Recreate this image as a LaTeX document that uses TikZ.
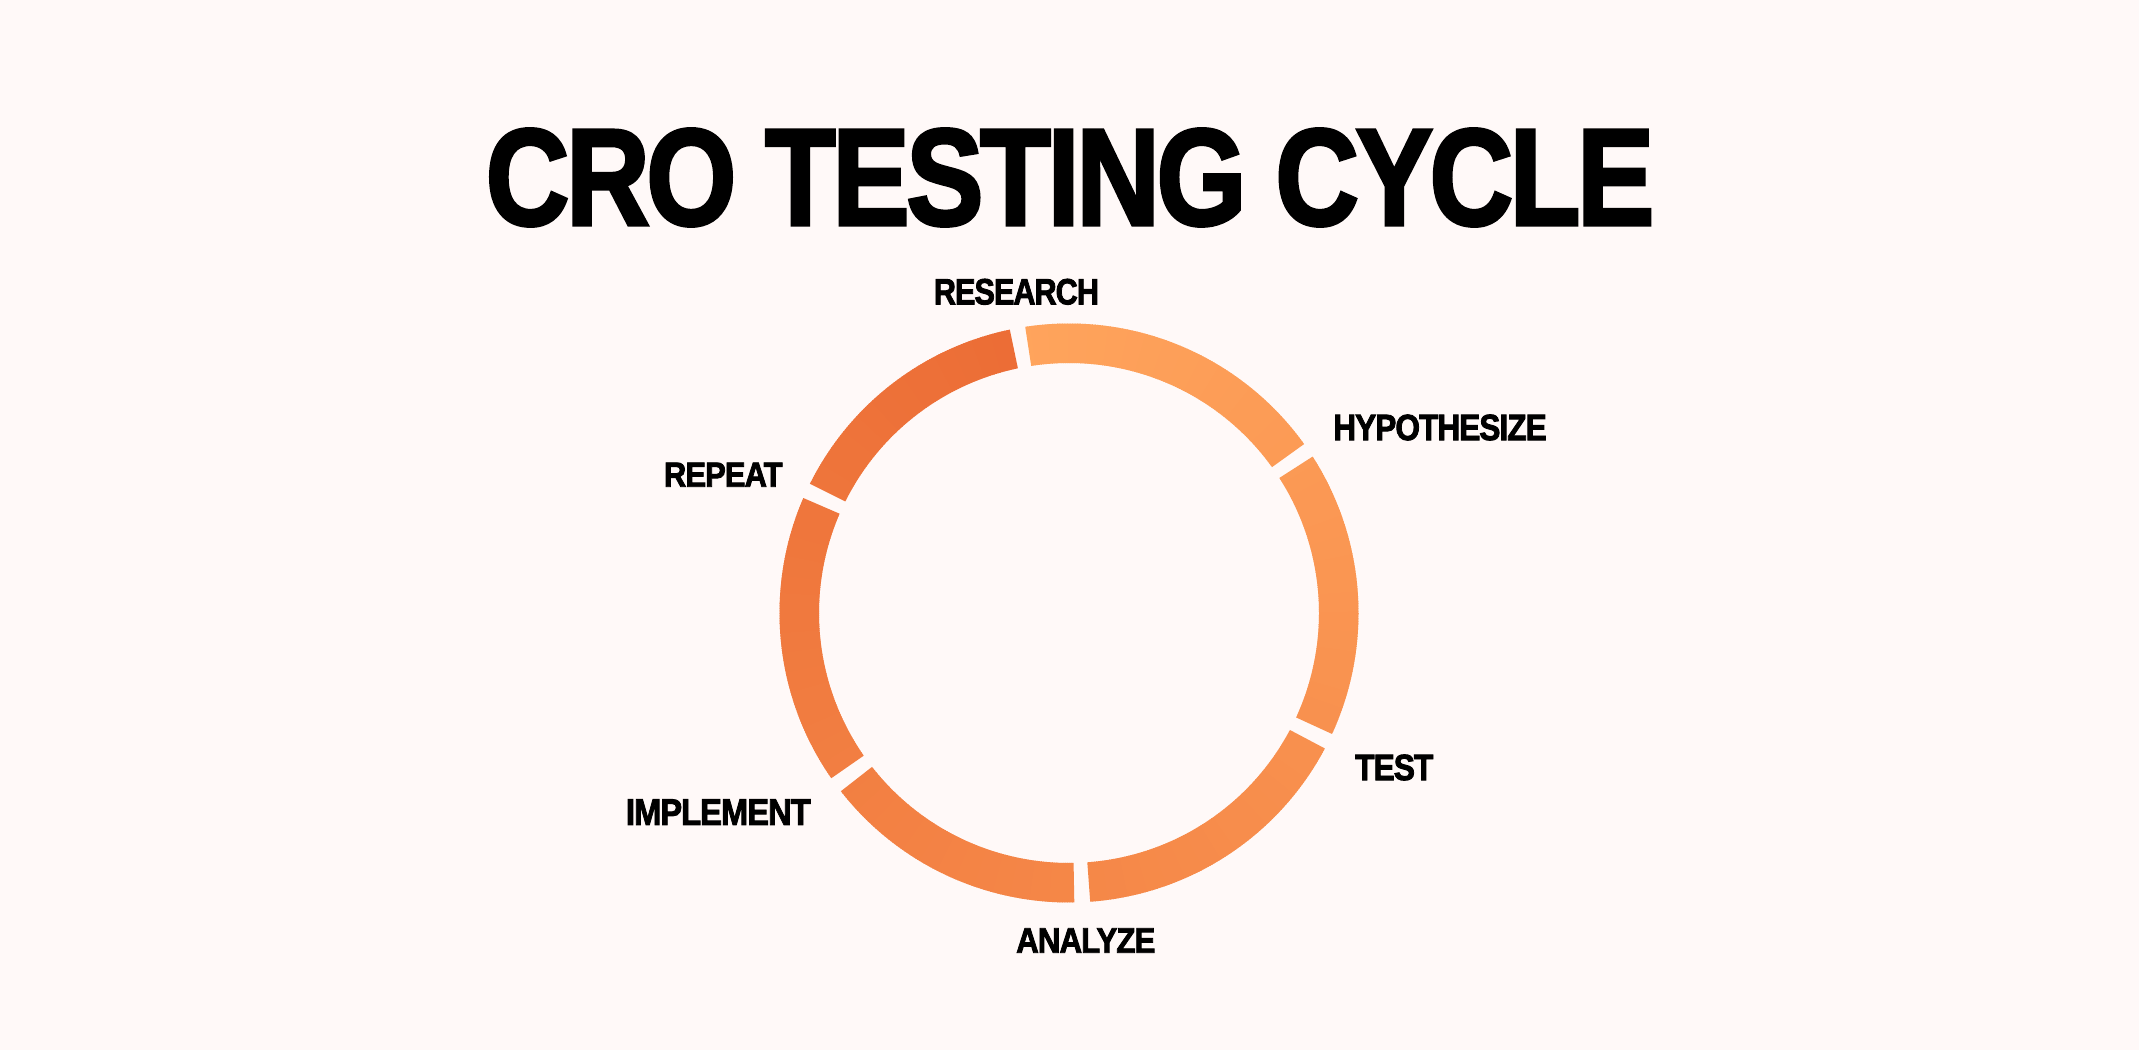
\documentclass[tikz,border=0pt]{standalone}
\usepackage{fontspec}
\setmainfont{Liberation Sans}
\newfontfamily\heavyfont{Liberation Sans}[BoldFeatures={FakeBold=2.5}, LetterSpace=-3]
\usepackage{graphicx}
\usetikzlibrary{calc}
\definecolor{bgcol}{HTML}{FFF9F8}
\definecolor{ringlight}{HTML}{FFA45C}
\definecolor{ringdark}{HTML}{EA6832}
\newcommand{\fitlabel}[3]{\resizebox{#1pt}{#2pt}{\heavyfont\bfseries #3}}
\tikzset{
  steplabel/.style={inner sep=0pt, outer sep=0pt, anchor=center, text=black},
  titlelabel/.style={inner sep=0pt, outer sep=0pt, anchor=center, text=black}
}
\begin{document}
\begin{tikzpicture}[x=1pt,y=1pt]
\useasboundingbox (0,0) rectangle (2139,1050);
\fill[bgcol] (0,0) rectangle (2139,1050);
\coordinate (ctr) at (1069,437);
\def\Rin{250}
\def\Rout{289.5}
% ring segments with a conic gradient (light at the top, darkening clockwise)
\foreach \sa/\sb in {35.7/98.7, -24.7/32.7, -85.8/-27.9, 218/271.05, 156.6/214.8, 101.8/153.5} {
  \pgfmathsetmacro{\nsl}{int(ceil((\sb-\sa)/0.5))}
  \foreach \ii in {1,...,\nsl} {
    \pgfmathsetmacro{\segS}{\sa+(\ii-1)*(\sb-\sa)/\nsl}
    \pgfmathsetmacro{\segE}{min(\sa+\ii*(\sb-\sa)/\nsl+0.2,\sb)}
    \pgfmathsetmacro{\segM}{(\segS+\segE)/2}
    \pgfmathsetmacro{\segT}{int(round(mod(100-\segM+720,360)/360*92))}
    \fill[ringdark!\segT!ringlight]
      ($(ctr)+(\segS:\Rout)$) arc[start angle=\segS, end angle=\segE, radius=\Rout]
      -- ($(ctr)+(\segE:\Rin)$) arc[start angle=\segE, end angle=\segS, radius=\Rin]
      -- cycle;
  }
}
% title
\node[titlelabel] (title) at (1070,872.5) {\fitlabel{1168}{96}{CRO TESTING CYCLE}};
% step labels
\node[steplabel] (research) at (1016.4,758.2) {\fitlabel{165}{25.5}{RESEARCH}};
\node[steplabel] (hypothesize) at (1440,622.5) {\fitlabel{213.4}{25.5}{HYPOTHESIZE}};
\node[steplabel] (test) at (1394.2,282.5) {\fitlabel{78.3}{25.5}{TEST}};
\node[steplabel] (analyze) at (1085.8,109.5) {\fitlabel{139.2}{24.4}{ANALYZE}};
\node[steplabel] (implement) at (718.3,237.8) {\fitlabel{184.7}{25.5}{IMPLEMENT}};
\node[steplabel] (repeat) at (723.3,575.3) {\fitlabel{118.7}{24}{REPEAT}};
\end{tikzpicture}
\end{document}
